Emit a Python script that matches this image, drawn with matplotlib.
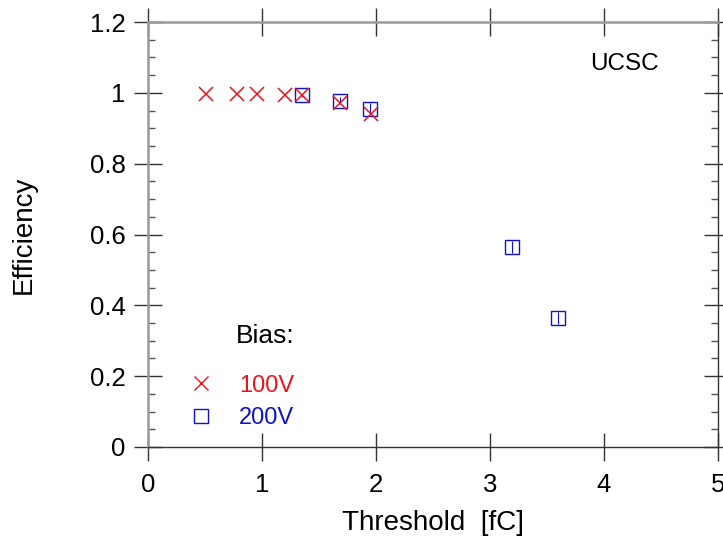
import matplotlib.pyplot as plt
from matplotlib.ticker import MultipleLocator
from matplotlib.lines import Line2D

plt.rcParams['font.family'] = ['Liberation Sans', 'DejaVu Sans']

# efficiency vs threshold for the two bias voltages
thr_100 = [0.51, 0.78, 0.96, 1.20, 1.35, 1.68, 1.96]
eff_100 = [0.997, 0.997, 0.997, 0.995, 0.993, 0.970, 0.940]

thr_200 = [1.35, 1.68, 1.95, 3.19, 3.60]
eff_200 = [0.993, 0.978, 0.955, 0.565, 0.364]
err_200 = [0.005, 0.010, 0.015, 0.018, 0.018]

xticks = [0, 1, 2, 3, 4, 5]
yticks = [0, 0.2, 0.4, 0.6, 0.8, 1, 1.2]
ytick_labels = ['0', '0.2', '0.4', '0.6', '0.8', '1', '1.2']

red = '#e8141c'
blue = '#1010d0'

fig = plt.figure(figsize=(7.23, 5.42), dpi=100)
ax = fig.add_axes([148 / 723, 1 - 447 / 542, 570 / 723, 425 / 542])

ax.errorbar(thr_200, eff_200, yerr=err_200, fmt='none', ecolor=blue,
            elinewidth=0.8, capsize=0, zorder=2)
ax.plot(thr_200, eff_200, ls='none', marker='s', ms=10, mfc='none',
        mec=blue, mew=1.0, zorder=3)
ax.plot(thr_100, eff_100, ls='none', marker='x', ms=10, color=red,
        mew=1.1, zorder=4)

ax.set_xlim(0, 5)
ax.set_ylim(0, 1.2)
ax.set_xticks(xticks)
ax.set_yticks(yticks)
ax.set_yticklabels(ytick_labels)
ax.yaxis.set_minor_locator(MultipleLocator(0.05))

ax.tick_params(which='major', direction='inout', length=20, width=1.0,
               color='#333333', labelsize=18.5, pad=6,
               top=True, right=True)
ax.tick_params(axis='x', which='major', pad=9)
ax.tick_params(which='minor', direction='in', length=5, width=1.0,
               color='#555555', left=True, right=True)
ax.tick_params(axis='x', which='minor', bottom=False, top=False)

for side in ['left', 'top']:
    ax.spines[side].set_color('#999999')
    ax.spines[side].set_linewidth(1.8)
for side in ['right', 'bottom']:
    ax.spines[side].set_color('#333333')
    ax.spines[side].set_linewidth(1.0)

ax.set_xlabel('Threshold  [fC]', fontsize=20)
ax.set_ylabel('Efficiency', fontsize=20)
ax.xaxis.set_label_coords(0.5, -0.148)
ax.yaxis.set_label_coords(-0.195, 0.5)

ax.text(0.835, 0.9, 'UCSC', transform=ax.transAxes, ha='center',
        va='center', fontsize=17.5)

ax.text(0.154, 0.262, 'Bias:', transform=ax.transAxes, ha='left',
        va='center', fontsize=19)

handles = [Line2D([], [], ls='none', marker='x', ms=10, color=red, mew=1.0),
           Line2D([], [], ls='none', marker='s', ms=10, mfc='none',
                  mec=blue, mew=1.0)]
leg = ax.legend(handles, ['100V', '200V'], loc='center left',
                bbox_to_anchor=(0.035, 0.106), frameon=False,
                fontsize=17, handlelength=1.0, handletextpad=1.1,
                labelspacing=0.45)
for txt, c in zip(leg.get_texts(), [red, blue]):
    txt.set_color(c)

fig.savefig('out.png', dpi=100)
